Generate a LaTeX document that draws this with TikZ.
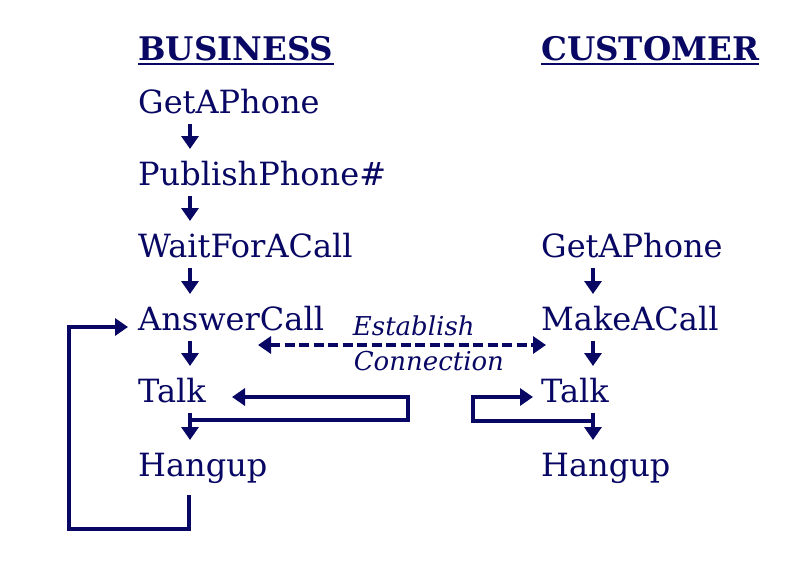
\documentclass[tikz,border=0pt]{standalone}
\usepackage{fontspec}
\setmainfont{DejaVu Serif}
\usetikzlibrary{arrows.meta}
\definecolor{ink}{RGB}{8,8,100}

\begin{document}
\begin{tikzpicture}[
    x=1pt, y=-1pt,
    >={Triangle[length=13pt, width=17pt]},
    stage/.style={anchor=base west, inner sep=0pt, text=ink,
        font=\fontsize{32}{38}\selectfont},
    head/.style={anchor=base west, inner sep=0pt, text=ink,
        font=\fontsize{32.5}{40}\selectfont\bfseries},
    arr/.style={->, line width=3.3pt, draw=ink},
    lbl/.style={anchor=base west, inner sep=0pt, text=ink,
        font=\fontsize{26}{30}\selectfont\itshape},
]
\useasboundingbox (0,0) rectangle (802,563);

% Column headers
\node[head] (hbus) at (138, 60) {BUSINESS};
\node[head] (hcus) at (541, 60) {CUSTOMER};
\draw[ink, line width=1.6pt] ([yshift=-4pt]hbus.base west) -- ([yshift=-4pt]hbus.base east);
\draw[ink, line width=1.6pt] ([yshift=-4pt]hcus.base west) -- ([yshift=-4pt]hcus.base east);

% Left column: business (x = 138)
\node[stage] (bphone) at (138, 113) {GetAPhone};
\node[stage] (bpub) at (138, 185) {PublishPhone\#};
\node[stage] (bwait) at (138, 257) {WaitForACall};
\node[stage] (bans) at (138, 330) {AnswerCall};
\node[stage] (btalk) at (138, 402) {Talk};
\node[stage] (bhang) at (138, 476) {Hangup};

% Right column: customer (x = 541)
\node[stage] (cphone) at (541, 257) {GetAPhone};
\node[stage] (cmake) at (541, 330) {MakeACall};
\node[stage] (ctalk) at (541, 402) {Talk};
\node[stage] (chang) at (541, 476) {Hangup};

% Steps down each column
\foreach \a/\b in {bphone/bpub, bpub/bwait, bwait/bans, bans/btalk, btalk/bhang,
                   cphone/cmake, cmake/ctalk, ctalk/chang}
    \draw[arr] ([shift={(52,11)}]\a.base west) -- ([shift={(52,-36)}]\b.base west);

% Establish connection (dashed, both ways)
\draw[arr, <->, dash pattern=on 10pt off 4.5pt]
    ([shift={(120,15)}]bans.base west) -- ([shift={(5,15)}]cmake.base west)
    node[lbl, pos=0.324, yshift=10pt] {Establish}
    node[lbl, pos=0.327, yshift=-25pt] {Connection};

% Talk loops
\draw[arr] ([shift={(52,18)}]btalk.base west) -- ++(218,0) |- ([shift={(94,-5)}]btalk.base west);
\draw[arr] ([shift={(52,19)}]ctalk.base west) -- ++(-120,0) |- ([shift={(-8,-5)}]ctalk.base west);

% Hangup back to answer
\draw[arr] ([shift={(51,19)}]bhang.base west) -- ++(0,34) -- ++(-120,0) |- ([shift={(-10,-3)}]bans.base west);

\end{tikzpicture}
\end{document}
